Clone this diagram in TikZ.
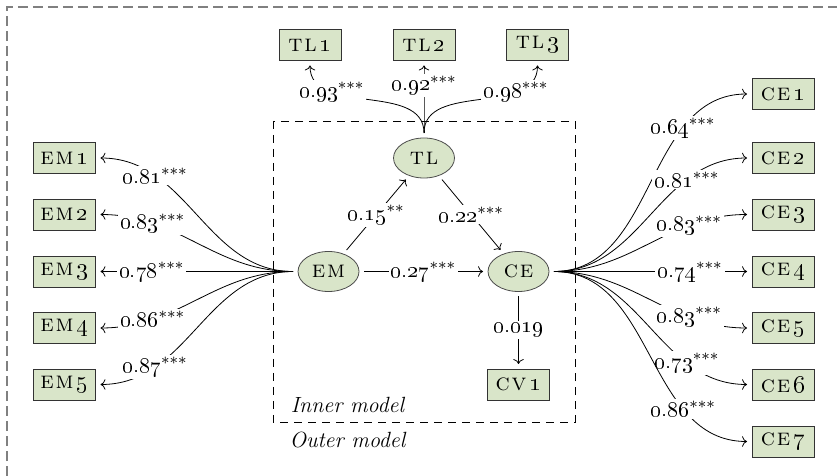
\documentclass[tikz,border=0pt]{standalone}
\usepackage{amsmath, amssymb}
\usepackage{tikz}
\usetikzlibrary{arrows,
arrows.meta,
shapes.geometric
}
\tikzset{>={To[scale=1]}}
\definecolor{sagegreen}{RGB}{217,229,201}
\newcommand{\coef}[2]{\oldstylenums{#1}$^{#2}$}
\newcommand{\lv}[2]{\textsc{#1\kern0.9pt#2}}
\newcommand{\ind}[3]{\lv{#1}{#2}\kern1.6pt\oldstylenums{#3}}

\begin{document}
\begin{tikzpicture}[x=0.5pt, y=-0.5pt, font=\fontsize{11}{13}\selectfont,
    indicator/.style={draw=black!80, fill=sagegreen, font=\fontsize{12}{14}\selectfont, minimum width=31pt, minimum height=15.5pt, inner sep=0pt, outer sep=2.5pt},
    latent/.style={ellipse, draw=black!70, fill=sagegreen, font=\fontsize{12}{14}\selectfont, minimum width=30.5pt, minimum height=20pt, inner sep=0pt, outer sep=2.5pt},
    load/.style={fill=white, inner sep=1pt}]
            \useasboundingbox (0,0) rectangle (837,476);
            % frames
            \draw[black!50, line width=0.6pt, dash pattern=on 5pt off 2.5pt] (7,476) -- (7,7) -- (837,7);
            \draw[dash pattern=on 4pt off 3pt] (273,121) rectangle (575,422);
            \node at (348,405) {\textit{Inner model}};
            \node at (348,440) {\textit{Outer model}};
            % latent variables
            \node[latent] (em) at (328.5,271.5) {\lv{e}{m}};
            \node[latent] (tl) at (424,158) {\lv{t}{l}};
            \node[latent] (ce) at (518.5,271.5) {\lv{c}{e}};
            \node[indicator] (cv1) at (518.5,384.5) {\ind{c}{v}{1}};
            % indicators
            \node[indicator] (tl1) at (310,45) {\ind{t}{l}{1}};
            \node[indicator] (tl2) at (424,45) {\ind{t}{l}{2}};
            \node[indicator] (tl3) at (537.5,45) {\ind{t}{l}{3}};
            \node[indicator] (em1) at (64.5,158) {\ind{e}{m}{1}};
            \node[indicator] (em2) at (64.5,214.5) {\ind{e}{m}{2}};
            \node[indicator] (em3) at (64.5,271.5) {\ind{e}{m}{3}};
            \node[indicator] (em4) at (64.5,328) {\ind{e}{m}{4}};
            \node[indicator] (em5) at (64.5,384.5) {\ind{e}{m}{5}};
            \node[indicator] (ce1) at (783,94) {\ind{c}{e}{1}};
            \node[indicator] (ce2) at (783,158) {\ind{c}{e}{2}};
            \node[indicator] (ce3) at (783,214.5) {\ind{c}{e}{3}};
            \node[indicator] (ce4) at (783,271.5) {\ind{c}{e}{4}};
            \node[indicator] (ce5) at (783,328) {\ind{c}{e}{5}};
            \node[indicator] (ce6) at (783,384.5) {\ind{c}{e}{6}};
            \node[indicator] (ce7) at (783,441.5) {\ind{c}{e}{7}};
            % inner model
            \draw[->] (em) -- node[load] {\coef{0.15}{**}} (tl);
            \draw[->] (tl) -- node[load] {\coef{0.22}{***}} (ce);
            \draw[->] (em) -- node[load] {\coef{0.27}{***}} (ce);
            \draw[->] (ce) -- node[load] {\oldstylenums{0.019}} (cv1);
            % outer model
            \draw[->] (tl.north) to [out=90, in=-90] node[load, pos=0.72] {\coef{0.93}{***}} (tl1.south);
            \draw[->] (tl.north) to [out=90, in=-90] node[load, pos=0.72] {\coef{0.92}{***}} (tl2.south);
            \draw[->] (tl.north) to [out=90, in=-90] node[load, pos=0.72] {\coef{0.98}{***}} (tl3.south);
            \draw[->] (em.west) to [out=180, in=0] node[load, pos=0.75] {\coef{0.81}{***}} (em1.east);
            \draw[->] (em.west) to [out=180, in=0] node[load, pos=0.75] {\coef{0.83}{***}} (em2.east);
            \draw[->] (em.west) to [out=180, in=0] node[load, pos=0.75] {\coef{0.78}{***}} (em3.east);
            \draw[->] (em.west) to [out=180, in=0] node[load, pos=0.75] {\coef{0.86}{***}} (em4.east);
            \draw[->] (em.west) to [out=180, in=0] node[load, pos=0.75] {\coef{0.87}{***}} (em5.east);
            \draw[->] (ce.east) to [out=0, in=180] node[load, pos=0.72] {\coef{0.64}{***}} (ce1.west);
            \draw[->] (ce.east) to [out=0, in=180] node[load, pos=0.72] {\coef{0.81}{***}} (ce2.west);
            \draw[->] (ce.east) to [out=0, in=180] node[load, pos=0.72] {\coef{0.83}{***}} (ce3.west);
            \draw[->] (ce.east) to [out=0, in=180] node[load, pos=0.72] {\coef{0.74}{***}} (ce4.west);
            \draw[->] (ce.east) to [out=0, in=180] node[load, pos=0.72] {\coef{0.83}{***}} (ce5.west);
            \draw[->] (ce.east) to [out=0, in=180] node[load, pos=0.72] {\coef{0.73}{***}} (ce6.west);
            \draw[->] (ce.east) to [out=0, in=180] node[load, pos=0.72] {\coef{0.86}{***}} (ce7.west);
        \end{tikzpicture}
\end{document}
